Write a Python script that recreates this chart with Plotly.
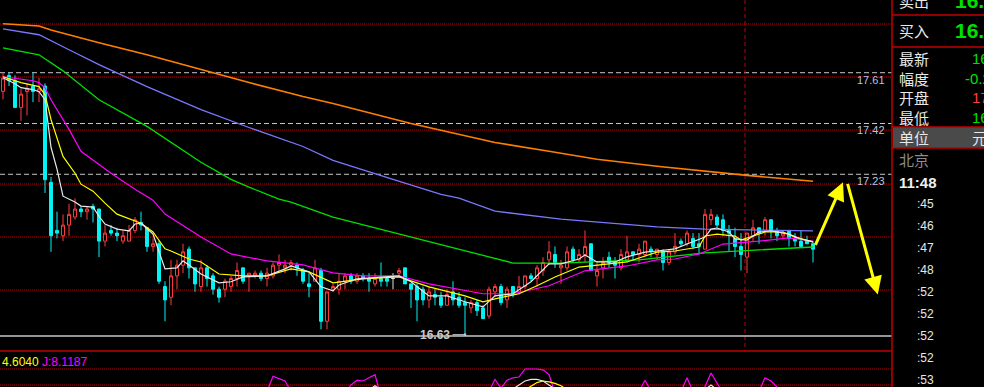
import plotly.graph_objects as go

# ---------------- data ----------------
opens = [17.54, 17.60, 17.58, 17.48, 17.54, 17.56, 17.54, 17.56, 17.20, 17.02,
         17.00, 17.04, 17.07, 17.10, 17.09, 17.11, 17.10, 16.98, 17.02, 17.01,
         16.98, 16.98, 17.02, 17.05, 17.03, 16.96, 16.97, 16.81, 16.77, 16.85,
         16.89, 16.95, 16.88, 16.81, 16.88, 16.85, 16.80, 16.80, 16.81, 16.84,
         16.88, 16.85, 16.85, 16.86, 16.84, 16.85, 16.89, 16.88, 16.89, 16.89,
         16.87, 16.82, 16.83, 16.87, 16.68, 16.80, 16.80, 16.83, 16.85, 16.83,
         16.85, 16.84, 16.82, 16.84, 16.84, 16.84, 16.86, 16.88, 16.82, 16.81,
         16.80, 16.76, 16.78, 16.77, 16.74, 16.79, 16.77, 16.75, 16.73, 16.75,
         16.73, 16.70, 16.79, 16.81, 16.76, 16.81, 16.79, 16.81, 16.85, 16.84,
         16.87, 16.91, 16.93, 16.88, 16.88, 16.95, 16.91, 16.93, 16.97, 16.85,
         16.88, 16.92, 16.90, 16.88, 16.91, 16.94, 16.93, 16.93, 16.95, 16.93,
         16.94, 16.90, 16.94, 16.98, 16.97, 16.99, 16.97, 16.95, 17.06, 17.07,
         17.06, 17.02, 16.99, 16.96, 16.92, 17.00, 17.03, 17.02, 17.06, 17.02,
         17.00, 17.02, 16.99, 16.98, 16.98, 16.97]
highs = [17.61, 17.61, 17.60, 17.55, 17.57, 17.61, 17.59, 17.57, 17.22, 17.09,
         17.08, 17.12, 17.14, 17.11, 17.11, 17.12, 17.10, 17.04, 17.04, 17.03,
         17.02, 17.04, 17.07, 17.09, 17.03, 16.99, 16.98, 16.83, 16.91, 16.91,
         16.97, 16.96, 16.88, 16.91, 16.89, 16.86, 16.81, 16.84, 16.85, 16.90,
         16.88, 16.86, 16.87, 16.87, 16.88, 16.90, 16.93, 16.91, 16.91, 16.90,
         16.88, 16.86, 16.91, 16.88, 16.79, 16.82, 16.86, 16.86, 16.86, 16.86,
         16.86, 16.86, 16.86, 16.90, 16.85, 16.86, 16.88, 16.88, 16.82, 16.82,
         16.81, 16.81, 16.80, 16.79, 16.80, 16.83, 16.79, 16.77, 16.76, 16.76,
         16.74, 16.81, 16.82, 16.82, 16.81, 16.81, 16.85, 16.85, 16.86, 16.89,
         16.92, 16.98, 16.96, 16.91, 16.96, 16.96, 16.95, 17.02, 16.97, 16.90,
         16.92, 16.94, 16.92, 16.95, 17.00, 16.94, 16.97, 16.98, 16.96, 16.95,
         16.95, 16.95, 17.01, 16.99, 17.02, 17.01, 17.01, 17.10, 17.10, 17.08,
         17.08, 17.04, 17.03, 17.01, 17.01, 17.06, 17.03, 17.07, 17.06, 17.03,
         17.02, 17.02, 17.01, 17.02, 17.00, 16.98]
lows = [17.51, 17.56, 17.48, 17.43, 17.45, 17.50, 17.50, 17.16, 16.94, 16.99,
        16.98, 17.00, 17.06, 17.07, 17.06, 17.05, 16.92, 16.96, 17.00, 16.98,
        16.97, 16.98, 17.01, 17.02, 16.94, 16.94, 16.82, 16.68, 16.74, 16.80,
        16.86, 16.84, 16.79, 16.79, 16.81, 16.78, 16.75, 16.77, 16.79, 16.81,
        16.82, 16.79, 16.84, 16.83, 16.81, 16.84, 16.87, 16.86, 16.87, 16.85,
        16.82, 16.77, 16.83, 16.65, 16.65, 16.79, 16.78, 16.80, 16.82, 16.82,
        16.83, 16.79, 16.81, 16.81, 16.81, 16.80, 16.85, 16.82, 16.73, 16.68,
        16.74, 16.73, 16.74, 16.73, 16.74, 16.74, 16.73, 16.63, 16.71, 16.70,
        16.69, 16.69, 16.77, 16.74, 16.73, 16.77, 16.78, 16.80, 16.83, 16.81,
        16.85, 16.89, 16.88, 16.82, 16.87, 16.90, 16.90, 16.90, 16.87, 16.81,
        16.84, 16.88, 16.84, 16.87, 16.90, 16.91, 16.90, 16.92, 16.92, 16.91,
        16.87, 16.89, 16.93, 16.96, 16.96, 16.95, 16.93, 16.95, 17.04, 17.03,
        17.00, 16.94, 16.92, 16.87, 16.86, 16.98, 16.97, 17.00, 16.99, 16.98,
        16.99, 16.96, 16.96, 16.96, 16.97, 16.90]
closes = [17.59, 17.58, 17.48, 17.53, 17.55, 17.54, 17.55, 17.21, 17.00, 17.01,
          17.04, 17.08, 17.10, 17.09, 17.10, 17.10, 16.98, 17.01, 17.01, 17.00,
          17.00, 17.02, 17.06, 17.04, 16.96, 16.97, 16.83, 16.76, 16.85, 16.89,
          16.94, 16.88, 16.82, 16.88, 16.84, 16.80, 16.77, 16.83, 16.84, 16.87,
          16.83, 16.86, 16.86, 16.84, 16.86, 16.89, 16.90, 16.89, 16.90, 16.88,
          16.83, 16.81, 16.88, 16.68, 16.79, 16.81, 16.83, 16.85, 16.83, 16.85,
          16.84, 16.83, 16.84, 16.83, 16.83, 16.84, 16.87, 16.82, 16.80, 16.76,
          16.76, 16.79, 16.77, 16.74, 16.78, 16.76, 16.74, 16.74, 16.75, 16.72,
          16.69, 16.80, 16.81, 16.75, 16.80, 16.78, 16.81, 16.85, 16.84, 16.88,
          16.90, 16.94, 16.90, 16.89, 16.94, 16.91, 16.93, 16.96, 16.87, 16.87,
          16.90, 16.90, 16.89, 16.93, 16.94, 16.93, 16.95, 16.98, 16.94, 16.95,
          16.90, 16.94, 16.96, 16.97, 17.01, 16.96, 16.96, 17.08, 17.08, 17.04,
          17.02, 17.01, 16.96, 16.93, 17.01, 17.03, 17.01, 17.06, 17.02, 17.00,
          17.01, 16.99, 16.98, 16.96, 16.97, 16.95]

# moving-average lines: candle index where read, and value
ma5_idx = [0, 2, 3, 5, 6, 7, 8, 9, 10, 12, 13, 15, 16, 17, 19, 21, 22, 23, 25, 26,
           27, 29, 30, 31, 33, 36, 38, 40, 44, 47, 48, 51, 53, 55, 56, 59, 66, 68, 71, 74,
           77, 80, 82, 85, 88, 91, 93, 96, 97, 99, 102, 104, 107, 109, 112, 114, 117, 118, 119, 121,
           122, 124, 126, 128, 131, 133, 135]
ma5_val = [17.591, 17.569, 17.554, 17.547, 17.539, 17.509, 17.331, 17.249, 17.148, 17.126,
           17.111, 17.107, 17.073, 17.044, 17.025, 17.018, 17.044, 17.047, 17.006, 16.939,
           16.876, 16.880, 16.906, 16.891, 16.857, 16.824, 16.828, 16.846, 16.850, 16.876,
           16.887, 16.865, 16.809, 16.794, 16.816, 16.839, 16.850, 16.828, 16.775, 16.775,
           16.753, 16.734, 16.775, 16.783, 16.828, 16.895, 16.895, 16.913, 16.928, 16.902,
           16.902, 16.921, 16.939, 16.943, 16.951, 16.969, 16.995, 17.025, 17.029, 17.014,
           16.988, 16.984, 17.014, 17.018, 17.006, 16.988, 16.977]
ma10_idx = [0, 3, 6, 7, 8, 10, 12, 13, 15, 17, 19, 22, 23, 25, 27, 28, 31, 33, 36, 40,
            44, 48, 51, 55, 60, 66, 71, 77, 80, 82, 86, 89, 92, 96, 99, 104, 109, 112, 116, 117,
            119, 122, 123, 125, 127, 130, 132, 135]
ma10_val = [17.595, 17.573, 17.558, 17.528, 17.435, 17.297, 17.234, 17.193, 17.167, 17.122,
            17.081, 17.055, 17.047, 17.014, 16.951, 16.943, 16.913, 16.902, 16.857, 16.850,
            16.850, 16.876, 16.865, 16.824, 16.839, 16.846, 16.809, 16.775, 16.753, 16.764,
            16.783, 16.813, 16.846, 16.883, 16.891, 16.902, 16.939, 16.943, 16.958, 16.999,
            17.006, 16.999, 16.984, 16.999, 17.014, 17.014, 16.995, 16.977]
ma20_idx = [0, 5, 6, 7, 8, 11, 13, 18, 22, 25, 27, 33, 38, 44, 50, 55, 60, 66, 71, 80,
            85, 91, 97, 104, 109, 112, 116, 120, 126, 131, 135]
ma20_val = [17.595, 17.580, 17.573, 17.554, 17.509, 17.398, 17.316, 17.234, 17.174, 17.133,
            17.081, 16.995, 16.932, 16.906, 16.891, 16.861, 16.850, 16.850, 16.820, 16.783,
            16.783, 16.813, 16.869, 16.887, 16.910, 16.913, 16.932, 16.969, 16.980, 16.992,
            16.980]
ma60_idx = [0, 6, 10, 16, 24, 33, 38, 41, 46, 48, 55, 66, 74, 82, 85, 93, 106, 117, 126, 135]
ma60_val = [17.703, 17.677, 17.617, 17.509, 17.409, 17.275, 17.211, 17.182, 17.137, 17.126,
            17.070, 17.006, 16.962, 16.913, 16.898, 16.898, 16.910, 16.936, 16.947, 16.958]
ma120_idx = [0, 6, 11, 16, 24, 33, 41, 50, 55, 62, 65, 73, 76, 82, 93, 109, 117, 135]
ma120_val = [17.774, 17.752, 17.696, 17.640, 17.558, 17.472, 17.405, 17.334, 17.282, 17.234,
             17.211, 17.155, 17.141, 17.092, 17.062, 17.033, 17.025, 17.018]
ma250_idx = [0, 6, 8, 16, 24, 33, 41, 50, 55, 68, 82, 91, 99, 109, 124, 135]
ma250_val = [17.793, 17.785, 17.770, 17.722, 17.677, 17.621, 17.573, 17.521, 17.495, 17.420,
             17.349, 17.316, 17.286, 17.260, 17.226, 17.204]

# KDJ indicator (only the tops reach into the visible strip)
N = None
kdj_j_idx = [44, 45, 46, 47, 48, N, 57, 58, 59, 60, 61, 62, 63, N,
             81, 82, 83, 84, 85, 86, 87, 88, 89, 90, 91, 92, N,
             106, 107, 108, N, 113, 114, 115, N, 116, 117, 118, 119, 120, N,
             126, 127, 128, 129, 130]
kdj_j_val = [72, 91, 88, 85, 72, N, 70, 80, 86, 85, 89, 93, 65, N,
             72, 87, 76, 86, 89, 90, 100, 100, 100, 99, 93, 70, N,
             72, 86, 72, N, 72, 89, 72, N, 72, 78, 95, 80, 70, N,
             72, 89, 85, 78, 70]
kdj_k_idx = [85, 86, 87, 88, 89, 90, 91, 92, N, 61, 62, 63, N, 117, 118, 119]
kdj_k_val = [75, 80, 85, 87, 87, 85, 80, 75, N, 74, 79, 74, N, 74, 80, 74]
kdj_d_idx = [87, 88, 89, 90, 91, 92, 93, 94]
kdj_d_val = [74, 78, 83, 85, 84, 82, 79, 74]
kdj_label_d = "4.6040"
kdj_label_j = "J:8.1187"

ref_levels = [17.61, 17.42, 17.23]
ref_labels = ["17.61", "17.42", "17.23"]

# forecast arrows drawn by hand on the screenshot: (index, price) tail -> head
arrow_paths = [((135.3, 16.96), (140.0, 17.20)), ((140.7, 17.20), (145.8, 16.78))]

side_labels = ["卖出", "买入", "最新", "幅度", "开盘", "最低", "单位", "北京"]
side_values = ["16.9", "16.9", "16", "-0.2", "17", "16", "元"]
time_label = "11:48"
tick_minutes = [":45", ":46", ":47", ":48", ":52", ":52", ":52", ":52", ":53"]

# ---------------- figure ----------------
W, H = 984, 387
PANE_R = 892
MAIN_B = 336
SUB_T = 351
RED = "#ff3c3c"
CYAN = "#00f4f4"
GRID = "#c40000"


def px(x):
    return x / W


def py(y):
    return 1 - y / H


fig = go.Figure()

idx = list(range(len(opens)))
groups = [
    ([i for i in idx if closes[i] > opens[i]], RED, "#000000"),
    ([i for i in idx if closes[i] < opens[i]], CYAN, CYAN),
    ([i for i in idx if closes[i] == opens[i]], "#e0e0e0", "#e0e0e0"),
]
for sel, lc, fc in groups:
    if not sel:
        continue
    style = dict(line=dict(color=lc, width=1), fillcolor=fc)
    fig.add_trace(go.Candlestick(
        x=sel,
        open=[opens[i] for i in sel], high=[highs[i] for i in sel],
        low=[lows[i] for i in sel], close=[closes[i] for i in sel],
        increasing=style, decreasing=style, whiskerwidth=0,
        showlegend=False, hoverinfo="skip"))

for xs, ys, col, w in [
    (ma250_idx, ma250_val, "#ff8000", 1.6),
    (ma120_idx, ma120_val, "#7878ff", 1.3),
    (ma60_idx, ma60_val, "#00e000", 1.3),
    (ma20_idx, ma20_val, "#ff00ff", 1.2),
    (ma10_idx, ma10_val, "#ffff00", 1.2),
    (ma5_idx, ma5_val, "#e8e8e8", 1.2),
]:
    fig.add_trace(go.Scatter(x=xs, y=ys, mode="lines", line=dict(color=col, width=w),
                             showlegend=False, hoverinfo="skip"))

for xs, ys, col in [(kdj_j_idx, kdj_j_val, "#ff00ff"),
                    (kdj_k_idx, kdj_k_val, "#e8e8e8"),
                    (kdj_d_idx, kdj_d_val, "#ffff00")]:
    fig.add_trace(go.Scatter(x=xs, y=ys, mode="lines", yaxis="y2",
                             line=dict(color=col, width=1.2), connectgaps=False,
                             showlegend=False, hoverinfo="skip"))

shapes = []
# red dotted grid
for gy in [24, 77, 130, 184, 237, 290, 369, 385]:
    shapes.append(dict(type="line", xref="paper", yref="paper", x0=0, x1=px(PANE_R),
                       y0=py(gy), y1=py(gy), layer="below",
                       line=dict(color=GRID, width=1, dash="1px,1px")))
# white dashed price references
for lv in ref_levels:
    shapes.append(dict(type="line", xref="paper", yref="y", x0=0, x1=px(PANE_R),
                       y0=lv, y1=lv, layer="below",
                       line=dict(color="#c8c8c8", width=1, dash="5px,3px")))
# pane separators
shapes.append(dict(type="line", xref="paper", yref="paper", x0=0, x1=px(PANE_R),
                   y0=py(MAIN_B), y1=py(MAIN_B), line=dict(color="#c8c8c8", width=1.5)))
shapes.append(dict(type="line", xref="paper", yref="paper", x0=0, x1=px(PANE_R),
                   y0=py(SUB_T), y1=py(SUB_T), line=dict(color="#c00000", width=1.5)))
shapes.append(dict(type="line", xref="paper", yref="paper", x0=px(745), x1=px(745),
                   y0=py(0), y1=py(SUB_T), layer="below",
                   line=dict(color="#c00000", width=1, dash="4px,3px")))
shapes.append(dict(type="line", xref="paper", yref="paper", x0=px(PANE_R), x1=px(PANE_R),
                   y0=0, y1=1, line=dict(color="#c00000", width=1.5)))
# side panel
shapes.append(dict(type="rect", xref="paper", yref="paper", x0=px(PANE_R + 1), x1=1,
                   y0=py(148), y1=py(127), fillcolor="#4a4a4a",
                   line=dict(width=0)))
for ly in [15, 47, 127, 148]:
    shapes.append(dict(type="line", xref="paper", yref="paper", x0=px(PANE_R), x1=1,
                       y0=py(ly), y1=py(ly), line=dict(color="#c00000", width=1.5)))

ann = []
for lv, lab in zip(ref_levels, ref_labels):
    ann.append(dict(x=px(887), xref="paper", y=lv, yref="y", text=lab, showarrow=False,
                    xanchor="right", yanchor="middle", yshift=-7,
                    font=dict(family="Liberation Sans", size=11, color="#b4c4e4")))

low_i = min(idx, key=lambda i: lows[i])
ann.append(dict(x=low_i, y=lows[low_i], xref="x", yref="y", text=f"<b>{lows[low_i]:.2f}</b>",
                showarrow=True, ax=-30, ay=0, arrowhead=7, arrowsize=0.6, arrowwidth=1,
                arrowcolor="#c8c8c8", standoff=0, startstandoff=1,
                font=dict(family="Liberation Sans", size=12, color="#c8c8c8")))

ann.append(dict(x=0, y=py(362), xref="paper", yref="paper", text=kdj_label_d,
                showarrow=False, xanchor="left", yanchor="middle",
                font=dict(family="Liberation Sans", size=12, color="#ffff00")))
ann.append(dict(x=px(40), y=py(362), xref="paper", yref="paper", text=kdj_label_j,
                showarrow=False, xanchor="left", yanchor="middle",
                font=dict(family="Liberation Sans", size=12, color="#ff00ff")))

for (tx, ty), (hx, hy) in arrow_paths:
    ann.append(dict(x=hx, y=hy, xref="x", yref="y", ax=tx, ay=ty, axref="x", ayref="y",
                    text="", showarrow=True, arrowhead=2, arrowsize=1.2, arrowwidth=3,
                    arrowcolor="#ffff00", standoff=0))

CJK = "Noto Sans CJK SC"
label_y = [1, 31, 58, 78, 98, 117, 137, 160]
label_col = ["#e8e8e8"] * 7 + ["#8c8c8c"]
for t, yy, c in zip(side_labels, label_y, label_col):
    ann.append(dict(x=px(897), y=py(yy), xref="paper", yref="paper", text=t,
                    showarrow=False, xanchor="left", yanchor="middle",
                    font=dict(family=CJK, size=15, color=c)))
val_specs = [  # x, y, colour, size, bold
    (953, 1, "#00e000", 21, True),
    (953, 31, "#00e000", 21, True),
    (970, 58, "#00e000", 15, False),
    (963, 78, "#00e000", 15, False),
    (970, 98, "#ff3c3c", 15, False),
    (970, 117, "#00e000", 15, False),
    (970, 137, "#e8e8e8", 15, False),
]
for t, (xx, yy, c, s, b) in zip(side_values, val_specs):
    ann.append(dict(x=px(xx), y=py(yy), xref="paper", yref="paper",
                    text=f"<b>{t}</b>" if b else t,
                    showarrow=False, xanchor="left", yanchor="middle",
                    font=dict(family="Liberation Sans" if t != "元" else CJK, size=s, color=c)))
ann.append(dict(x=px(897), y=py(182), xref="paper", yref="paper", text=f"<b>{time_label}</b>",
                showarrow=False, xanchor="left", yanchor="middle",
                font=dict(family="Liberation Sans", size=15, color="#f0f0f0")))
for k, t in enumerate(tick_minutes):
    ann.append(dict(x=px(915), y=py(204 + 22 * k), xref="paper", yref="paper", text=t,
                    showarrow=False, xanchor="left", yanchor="middle",
                    font=dict(family="Liberation Sans", size=12, color="#e8e8e8")))

fig.update_layout(
    width=W, height=H, margin=dict(l=0, r=0, t=0, b=0),
    paper_bgcolor="#000000", plot_bgcolor="#000000",
    showlegend=False, hovermode=False,
    xaxis=dict(domain=[0, px(PANE_R)], range=[-0.5, (PANE_R - 3) / 6],
               showgrid=False, zeroline=False, showticklabels=False, showline=False,
               rangeslider=dict(visible=False), fixedrange=True),
    yaxis=dict(domain=[py(MAIN_B), 1], range=[16.625, 17.882],
               showgrid=False, zeroline=False, showticklabels=False, showline=False,
               fixedrange=True),
    yaxis2=dict(domain=[0, py(SUB_T)], range=[77.5, 122.5], anchor="x",
                showgrid=False, zeroline=False, showticklabels=False, showline=False,
                fixedrange=True),
    shapes=shapes, annotations=ann,
)

fig.write_html("out.html", config={"displayModeBar": False})
